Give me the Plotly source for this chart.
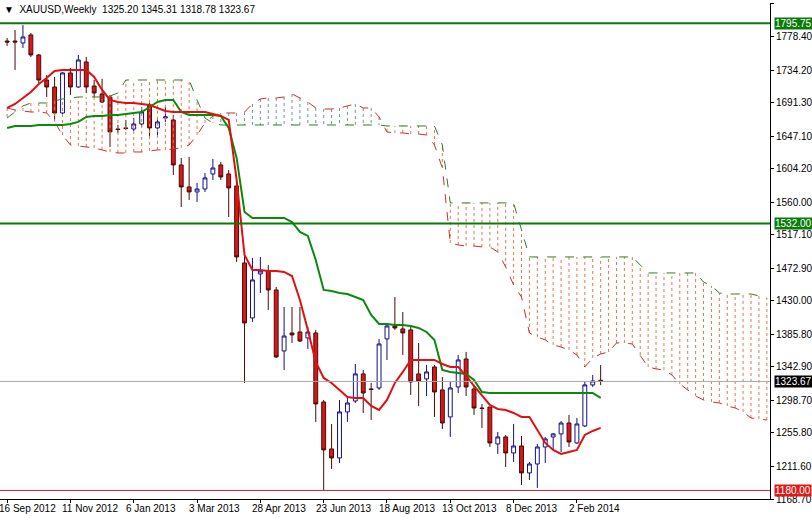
import plotly.graph_objects as go

x_labels = ["16 Sep 2012", "11 Nov 2012", "6 Jan 2013", "3 Mar 2013", "28 Apr 2013",
            "23 Jun 2013", "18 Aug 2013", "13 Oct 2013", "8 Dec 2013", "2 Feb 2014"]
x_label_weeks = [0, 8, 16, 24, 32, 40, 48, 56, 64, 72]

opens = [1772.5,1772.5,1769.9,1780.5,1754.1,1721.1,1711.9,1677.6,1730.4,1711.9,
         1744.9,1713.2,1702.7,1698.7,1656.5,1657.9,1656.5,1663.1,1688.2,1657.9,
         1671.0,1668.4,1609.1,1580.1,1573.5,1577.4,1597.2,1609.1,1597.2,1581.4,
         1479.9,1407.4,1465.4,1469.3,1444.3,1363.9,1387.6,1388.9,1381.0,1387.6,
         1296.6,1234.7,1222.8,1283.5,1297.9,1333.6,1313.8,1315.1,1379.7,1396.8,
         1392.9,1391.6,1333.6,1327.0,1342.8,1312.5,1276.9,1316.4,1353.3,1313.8,
         1288.7,1290.0,1241.3,1250.5,1229.4,1238.6,1203.1,1214.9,1237.3,1250.5,
         1254.5,1268.9,1242.6,1265.0,1319.1,1325.20]
highs = [1776.5,1787.0,1793.6,1783.1,1755.4,1727.7,1725.1,1731.7,1737.0,1754.1,
         1751.5,1721.1,1722.5,1701.4,1661.8,1668.4,1671.0,1685.5,1690.8,1672.4,
         1685.5,1675.0,1618.3,1619.6,1585.4,1598.5,1617.0,1613.0,1602.5,1589.3,
         1494.4,1486.5,1487.8,1477.2,1448.2,1421.9,1421.9,1421.9,1395.5,1391.6,
         1299.3,1267.6,1299.3,1303.2,1346.7,1338.8,1321.7,1379.7,1400.8,1435.0,
         1415.3,1395.5,1374.4,1345.4,1345.4,1329.6,1323.0,1358.6,1362.6,1319.1,
         1294.0,1290.0,1257.1,1253.1,1267.6,1251.8,1217.5,1241.3,1250.5,1255.8,
         1271.6,1279.5,1275.5,1323.0,1332.3,1345.31]
lows = [1766.0,1734.3,1763.3,1751.5,1717.2,1698.7,1668.4,1675.0,1701.4,1710.6,
        1704.0,1698.7,1690.8,1632.8,1651.3,1655.2,1653.9,1659.2,1646.0,1646.0,
        1665.8,1595.9,1553.7,1562.9,1560.3,1573.5,1589.3,1589.3,1540.5,1481.2,
        1321.7,1402.1,1440.3,1417.9,1354.6,1338.8,1374.4,1375.7,1366.5,1270.3,
        1180.7,1208.3,1216.2,1270.3,1295.3,1282.1,1272.9,1312.5,1352.0,1391.6,
        1358.6,1305.9,1291.4,1304.5,1276.9,1261.0,1250.5,1308.5,1304.5,1279.5,
        1262.4,1237.3,1228.1,1211.0,1217.5,1187.2,1193.8,1183.3,1216.2,1233.4,
        1230.7,1237.3,1241.3,1263.7,1316.4,1318.78]
closes = [1771.2,1771.2,1777.8,1754.1,1721.1,1711.9,1677.6,1730.4,1711.9,1747.5,
          1711.9,1704.0,1692.1,1652.6,1655.9,1657.2,1663.1,1678.9,1657.9,1665.8,
          1672.4,1609.1,1580.1,1573.5,1577.4,1592.0,1605.1,1593.3,1578.8,1487.8,
          1400.8,1457.5,1469.3,1444.3,1356.0,1383.6,1385.0,1377.0,1388.9,1294.0,
          1233.4,1222.8,1283.5,1295.3,1333.6,1308.5,1313.1,1373.1,1396.8,1394.2,
          1387.6,1323.0,1324.3,1336.2,1309.8,1268.9,1315.1,1352.0,1316.4,1288.7,
          1288.0,1242.6,1250.5,1229.4,1238.6,1203.1,1214.9,1237.3,1247.9,1254.5,
          1268.9,1243.9,1267.6,1319.1,1324.3,1323.67]

tenkan = [1684.2,1689.5,1697.4,1705.3,1715.9,1723.8,1733.0,1734.3,1734.3,1734.3,
          1734.3,1725.1,1708.0,1694.8,1692.1,1690.8,1690.8,1689.5,1688.2,1684.2,
          1680.3,1678.9,1678.9,1678.9,1678.9,1678.9,1676.3,1673.7,1668.4,1589.3,
          1490.4,1470.7,1470.7,1469.3,1469.3,1468.0,1462.7,1431.1,1391.6,1349.4,
          1328.3,1321.7,1312.5,1303.2,1301.9,1301.9,1291.4,1286.1,1299.3,1321.7,
          1336.2,1352.0,1352.0,1352.0,1352.0,1346.7,1342.8,1342.8,1331.0,1317.7,
          1304.5,1292.7,1287.4,1286.1,1282.1,1276.9,1276.9,1259.7,1242.6,1233.4,
          1228.1,1230.7,1233.4,1253.1,1258.4,1262.4]
kijun = [1657.9,1660.5,1660.5,1660.5,1661.8,1661.8,1661.8,1661.8,1663.1,1665.8,
         1672.4,1673.7,1673.7,1675.0,1675.0,1676.3,1677.6,1678.9,1685.5,1692.1,
         1694.8,1694.8,1678.9,1675.0,1675.0,1675.0,1675.0,1673.7,1657.9,1618.3,
         1547.1,1539.2,1539.2,1539.2,1539.2,1539.2,1533.9,1520.8,1515.5,1483.8,
         1444.3,1443.0,1440.3,1439.0,1435.0,1431.1,1411.3,1399.5,1399.5,1398.2,
         1398.2,1396.8,1394.2,1388.9,1378.4,1338.8,1336.2,1334.9,1333.6,1325.6,
         1309.8,1308.5,1308.5,1308.5,1308.5,1308.5,1308.5,1308.5,1308.5,1308.5,
         1308.5,1308.5,1308.5,1308.5,1308.5,1301.9]
span_a = [1684.2,1681.6,1680.3,1678.9,1678.9,1677.6,1665.8,1648.6,1635.4,1634.1,
          1632.8,1631.5,1628.9,1626.2,1624.9,1624.9,1626.2,1626.2,1627.5,1628.9,
          1628.9,1630.2,1631.5,1635.4,1648.6,1664.4,1673.7,1677.6,1677.6,1677.6,
          1678.9,1689.5,1696.1,1697.4,1697.4,1698.7,1702.7,1697.4,1692.1,1684.2,
          1682.9,1682.9,1684.2,1686.9,1689.5,1684.2,1684.2,1672.4,1652.6,1651.3,
          1651.3,1649.9,1649.9,1648.6,1635.4,1605.1,1506.3,1503.6,1502.3,1502.3,
          1501.0,1501.0,1494.4,1474.6,1450.9,1435.0,1387.6,1382.3,1378.4,1371.8,
          1369.1,1365.2,1358.6,1342.8,1354.6,1359.9,1362.6,1374.4,1374.4,1373.1,
          1358.6,1342.8,1340.2,1338.8,1332.3,1320.4,1312.5,1304.5,1299.3,1296.6,
          1295.3,1291.4,1288.7,1283.5,1275.5,1274.2,1272.9]
span_b = [1671.0,1678.9,1686.9,1690.8,1690.8,1690.8,1693.5,1696.1,1697.4,1698.7,
          1698.7,1698.7,1698.7,1700.0,1704.0,1721.1,1721.1,1721.1,1721.1,1721.1,
          1721.1,1721.1,1721.1,1721.1,1694.8,1671.0,1664.4,1661.8,1661.8,1661.8,
          1661.8,1661.8,1661.8,1661.8,1661.8,1661.8,1661.8,1661.8,1661.8,1661.8,
          1661.8,1661.8,1661.8,1661.8,1661.8,1661.8,1661.8,1661.8,1660.5,1660.5,
          1660.5,1660.5,1660.5,1660.5,1660.5,1635.4,1559.0,1559.0,1559.0,1559.0,
          1559.0,1559.0,1559.0,1559.0,1559.0,1523.4,1487.8,1487.8,1487.8,1487.8,
          1487.8,1487.8,1487.8,1487.8,1487.8,1487.8,1487.8,1487.8,1487.8,1487.8,
          1477.2,1466.7,1466.7,1466.7,1466.7,1466.7,1466.7,1466.7,1454.8,1449.6,
          1440.3,1439.0,1439.0,1439.0,1439.0,1436.4,1433.7]

y_ticks = [1822.60,1778.40,1734.20,1691.30,1647.10,1604.20,1560.00,1517.10,
           1472.90,1430.00,1385.80,1342.90,1298.70,1255.80,1211.60,1168.70]
levels = [1795.75, 1532.00]
support = 1180.00
last_price = 1323.67
title_text = "▼  XAUUSD,Weekly  1325.20 1345.31 1318.78 1323.67"

weeks = list(range(len(opens)))
cloud_weeks = list(range(len(span_a)))

fig = go.Figure()

hx_r, hy_r, hx_g, hy_g = [], [], [], []
for w, a, b in zip(cloud_weeks, span_a, span_b):
    if b >= a:
        hx_r += [w, w, None]; hy_r += [a, b, None]
    else:
        hx_g += [w, w, None]; hy_g += [a, b, None]
fig.add_trace(go.Scatter(x=hx_r, y=hy_r, mode="lines",
                         line=dict(color="#e0784a", width=1, dash="dot"), hoverinfo="skip"))
fig.add_trace(go.Scatter(x=hx_g, y=hy_g, mode="lines",
                         line=dict(color="#6f9a8a", width=1, dash="dot"), hoverinfo="skip"))
fig.add_trace(go.Scatter(x=cloud_weeks, y=span_a, mode="lines",
                         line=dict(color="#c83030", width=1, dash="dash")))
fig.add_trace(go.Scatter(x=cloud_weeks, y=span_b, mode="lines",
                         line=dict(color="#2e7d2e", width=1, dash="dash")))

for lv in levels:
    fig.add_hline(y=lv, line=dict(color="#0a7a0a", width=2))
fig.add_hline(y=support, line=dict(color="#c0203a", width=1))
fig.add_hline(y=last_price, line=dict(color="#a8a8a8", width=1))

fig.add_trace(go.Scatter(x=weeks, y=kijun, mode="lines", line=dict(color="#0a8a0a", width=2)))
fig.add_trace(go.Scatter(x=weeks, y=tenkan, mode="lines", line=dict(color="#e01010", width=2)))

fig.add_trace(go.Candlestick(
    x=weeks, open=opens, high=highs, low=lows, close=closes, whiskerwidth=0,
    increasing=dict(line=dict(color="#10108a", width=1), fillcolor="white"),
    decreasing=dict(line=dict(color="#4a0a0a", width=1), fillcolor="#d81818"),
))

for lab, w in zip(x_labels, x_label_weeks):
    fig.add_annotation(x=w, y=0, yref="paper", yanchor="top", xanchor="left", xshift=-10,
                       text=lab, showarrow=False, yshift=-2,
                       font=dict(size=10, color="black", family="Liberation Sans"))

def box(val, bg):
    fig.add_annotation(x=1, xref="paper", y=val, xanchor="left", xshift=4, text=f"{val:.2f}",
                       showarrow=False, bgcolor=bg, borderpad=0,
                       font=dict(size=10, color="white", family="Liberation Sans"))
for lv in levels:
    box(lv, "#0a7a0a")
box(support, "#e01818")
box(last_price, "#000000")

fig.add_annotation(x=0, xref="paper", y=1, yref="paper", xanchor="left", yanchor="top",
                   xshift=2, yshift=1, text=title_text, showarrow=False,
                   font=dict(size=10, color="black", family="Liberation Sans"))

fig.update_layout(
    width=812, height=518, margin=dict(l=0, r=42, t=3, b=19),
    paper_bgcolor="white", plot_bgcolor="white", showlegend=False,
    xaxis=dict(range=[-0.9, 96.4], rangeslider=dict(visible=False), showgrid=False,
               zeroline=False, tickvals=x_label_weeks, showticklabels=False,
               ticks="outside", ticklen=3, tickcolor="black",
               showline=True, linecolor="black", linewidth=1),
    yaxis=dict(range=[1168.7, 1822.6], side="right", tickvals=y_ticks,
               ticktext=[f"{v:.2f}" for v in y_ticks], showgrid=False, zeroline=False,
               ticks="outside", ticklen=3, tickcolor="black", automargin=False,
               tickfont=dict(size=10, color="black", family="Liberation Sans"),
               showline=True, linecolor="black", linewidth=1),
)
fig.write_html("out.html", config={"displayModeBar": False},
               post_script="document.body.style.margin='0';")
